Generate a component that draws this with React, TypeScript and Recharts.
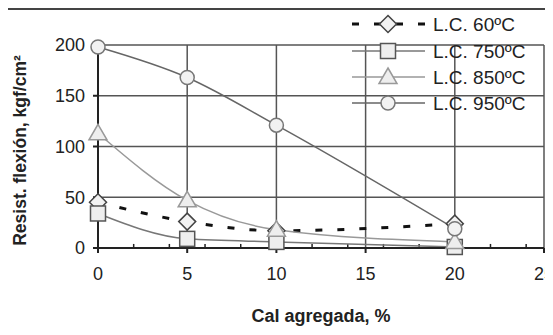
import React from "react";
import { LineChart, Line, XAxis, YAxis, CartesianGrid, Label, ReferenceLine } from "recharts";

const cal = [0, 5, 10, 20];
const lc60 = [45, 26, 17, 24];
const lc750 = [34, 9, 6, 1];
const lc850 = [113, 47, 18, 6];
const lc950 = [198, 168, 121, 19];

const xTicks = [0, 5, 10, 15, 20, 25];
const xMinorTicks = [2, 4, 6, 8, 12, 14, 16, 18, 22, 24];
const yTicks = [0, 50, 100, 150, 200];

const data = cal.map((c, i) => ({ cal: c, lc60: lc60[i], lc750: lc750[i], lc850: lc850[i], lc950: lc950[i] }));

const FONT = "Liberation Sans, Arial, sans-serif";

type Shape = "diamond" | "square" | "triangle" | "circle";

const Marker = ({ cx, cy, shape, stroke }: { cx: number; cy: number; shape: Shape; stroke: string }) => {
  if (cx == null || cy == null) return null;
  if (shape === "diamond")
    return <path d={`M${cx},${cy - 8.5}L${cx + 8.5},${cy}L${cx},${cy + 8.5}L${cx - 8.5},${cy}Z`} fill="#f2f2f2" stroke={stroke} strokeWidth={1.5} />;
  if (shape === "square")
    return <rect x={cx - 7.5} y={cy - 7.5} width={15} height={15} fill="#eeeeee" stroke={stroke} strokeWidth={1.5} />;
  if (shape === "triangle")
    return <path d={`M${cx},${cy - 9}L${cx + 9},${cy + 6.5}L${cx - 9},${cy + 6.5}Z`} fill="#eeeeee" stroke={stroke} strokeWidth={1.5} />;
  return <circle cx={cx} cy={cy} r={7} fill="#f2f2f2" stroke={stroke} strokeWidth={1.5} />;
};

const series = [
  { key: "lc60", name: "L.C. 60ºC", shape: "diamond" as Shape, color: "#111", width: 3, dash: "7 15", mstroke: "#444" },
  { key: "lc750", name: "L.C. 750ºC", shape: "square" as Shape, color: "#777", width: 1.5, dash: undefined, mstroke: "#555" },
  { key: "lc850", name: "L.C. 850ºC", shape: "triangle" as Shape, color: "#999", width: 1.5, dash: undefined, mstroke: "#999" },
  { key: "lc950", name: "L.C. 950ºC", shape: "circle" as Shape, color: "#666", width: 1.5, dash: undefined, mstroke: "#777" },
];

const legendRows = [24, 51, 77, 103];

const LegendBox = () => (
  <svg width={553} height={120} style={{ position: "absolute", left: 0, top: 0, overflow: "visible" }}>
    {series.map((s, i) => {
      const y = legendRows[i];
      return (
        <g key={s.key}>
          <line x1={352} x2={425} y1={y} y2={y} stroke={s.color} strokeWidth={s.key === "lc60" ? 3 : 1.5} strokeDasharray={s.key === "lc60" ? "7 15" : undefined} />
          <Marker cx={388} cy={y} shape={s.shape} stroke={s.mstroke} />
          <text x={433} y={y + 7} fontSize={19} fontFamily={FONT} fill="#222">{s.name}</text>
        </g>
      );
    })}
  </svg>
);

export default function App() {
  return (
    <div style={{ position: "relative", width: 553, height: 335, margin: -8, background: "#fff", overflow: "hidden" }}>
      <div style={{ position: "absolute", left: 4, top: 8, width: 560, height: 340, borderLeft: "2px solid #444", borderTop: "2px solid #444" }} />
      <LineChart width={553} height={335} data={data} margin={{ top: 45, right: 9, bottom: 7, left: 28 }}>
        <CartesianGrid stroke="#555" strokeWidth={1.5} />
        <XAxis
          dataKey="cal"
          type="number"
          domain={[0, 25]}
          ticks={xTicks}
          interval={0}
          tick={{ fontSize: 18, fill: "#222", fontFamily: FONT, dy: 12 }}
          tickSize={5}
          stroke="#222"
          strokeWidth={2}
          height={80}
        >
          <Label value="Cal agregada, %" position="insideBottom" offset={6} style={{ fontSize: 18, fontWeight: "bold", fill: "#222", fontFamily: FONT }} />
        </XAxis>
        <YAxis
          type="number"
          domain={[0, 200]}
          ticks={yTicks}
          interval={0}
          tick={{ fontSize: 18, fill: "#222", fontFamily: FONT, dx: -6 }}
          tickSize={5}
          stroke="#222"
          strokeWidth={2}
          width={70}
        >
          <Label value="Resist. flexión, kgf/cm²" angle={-90} position="insideLeft" offset={-8} dy={4} style={{ textAnchor: "middle", fontSize: 17.5, fontWeight: "bold", fill: "#222", fontFamily: FONT }} />
        </YAxis>
        {xMinorTicks.map((t) => (
          <ReferenceLine key={t} segment={[{ x: t, y: 0 }, { x: t, y: 4 }]} stroke="#222" strokeWidth={1.5} ifOverflow="visible" />
        ))}
        {series.map((s) => (
          <Line
            key={s.key}
            dataKey={s.key}
            name={s.name}
            type="monotone"
            stroke={s.color}
            strokeWidth={s.width}
            strokeDasharray={s.dash}
            isAnimationActive={false}
            dot={(p: any) => <Marker key={`${s.key}-${p.index}`} cx={p.cx} cy={p.cy} shape={s.shape} stroke={s.mstroke} />}
          />
        ))}
      </LineChart>
      <LegendBox />
    </div>
  );
}
